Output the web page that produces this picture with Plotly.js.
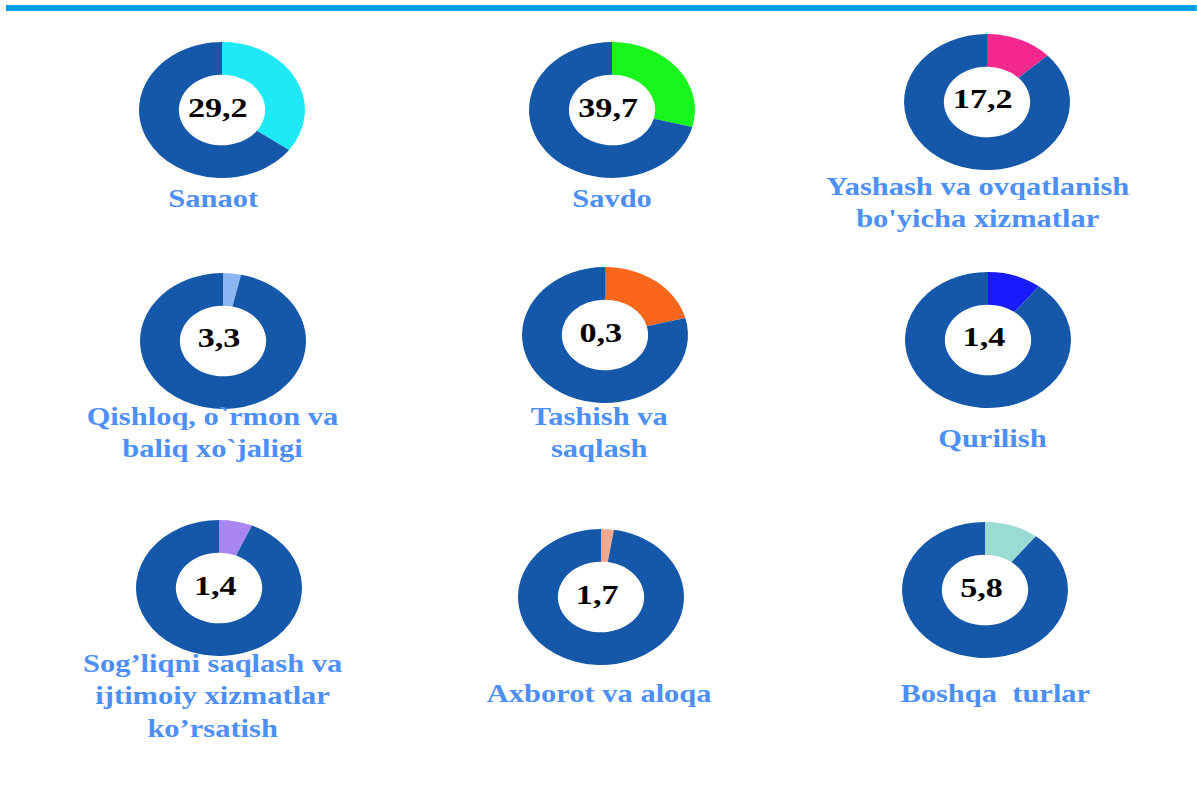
<!DOCTYPE html>
<html>
<head>
<meta charset="utf-8">
<script src="https://cdn.plot.ly/plotly-3.0.1.min.js"></script>
<style>
html,body{margin:0;padding:0;background:#fff;overflow:hidden;}
#wrap{width:1197px;height:801px;overflow:hidden;}
#chart{width:981px;height:801px;transform:scaleX(1.22);transform-origin:0 0;}
</style>
</head>
<body>
<div id="wrap"><div id="chart"></div></div>
<script>
// Data
var categories = [
  "Sanaot",
  "Savdo",
  "Yashash va ovqatlanish<br>bo'yicha xizmatlar",
  "Qishloq, o`rmon va<br>baliq xo`jaligi",
  "Tashish va<br>saqlash",
  "Qurilish",
  "Sog’liqni saqlash va<br>ijtimoiy xizmatlar<br>ko’rsatish",
  "Axborot va aloqa",
  "Boshqa  turlar"
];
var centerValues = [29.2, 39.7, 17.2, 3.3, 0.3, 1.4, 1.4, 1.7, 5.8];
// share of the highlighted slice as drawn in the picture (percent)
var sliceShares = [35, 29, 13, 3.5, 21, 10.5, 6.5, 2.5, 10.5];
var sliceColors = ["#1ee9f7", "#18f51c", "#f5288f", "#8cb6f2", "#fa661c", "#1a1aff", "#a985f2", "#f5aa8e", "#9adbd3"];

// Layout (pixel positions in the final picture; the chart is stretched horizontally by S)
var S = 1.22, W = 981, H = 801, R = 68;
var centers = [[222,110],[612,110],[987,102],[223,341],[605,335],[988,340],[219,588],[601,597],[985,590]];
var labelPos = [[213,200],[612,200],[978,188],[213,418],[600,418],[992,440],[213,665],[600,695],[995,695]];
var restColor = "#1558a9";

var traces = [], annotations = [];
for (var i = 0; i < categories.length; i++) {
  var cx = centers[i][0] / S, cy = centers[i][1];
  traces.push({
    type: "pie",
    values: [sliceShares[i], 100 - sliceShares[i]],
    labels: [categories[i].replace(/<br>/g, " "), "other"],
    marker: {colors: [sliceColors[i], restColor], line: {width: 0}},
    hole: 0.52,
    sort: false,
    direction: "clockwise",
    rotation: 0,
    textinfo: "none",
    hoverinfo: "label+percent",
    showlegend: false,
    domain: {x: [(cx - R) / W, (cx + R) / W], y: [1 - (cy + R) / H, 1 - (cy - R) / H]}
  });
  annotations.push({
    xref: "paper", yref: "paper", x: (centers[i][0] - 4) / S / W, y: 1 - (cy - 3) / H,
    text: "<b>" + centerValues[i].toFixed(1).replace(".", ",") + "</b>",
    showarrow: false, xanchor: "center", yanchor: "middle",
    font: {family: "Liberation Serif, Times New Roman, serif", size: 28, color: "#000"}
  });
  annotations.push({
    xref: "paper", yref: "paper", x: labelPos[i][0] / S / W, y: 1 - (labelPos[i][1] - 17) / H,
    text: "<b>" + categories[i] + "</b>",
    showarrow: false, xanchor: "center", yanchor: "top", align: "center",
    font: {family: "Liberation Serif, Times New Roman, serif", size: 25, color: "#4d8ff7"}
  });
}

var layout = {
  width: W, height: H,
  margin: {l: 0, r: 0, t: 0, b: 0},
  paper_bgcolor: "#fff", plot_bgcolor: "#fff",
  showlegend: false,
  annotations: annotations,
  shapes: [{
    type: "line", xref: "paper", yref: "paper",
    x0: 6 / S / W, x1: 1, y0: 1 - 8 / H, y1: 1 - 8 / H,
    line: {color: "#03a0e6", width: 6}
  }]
};
Plotly.newPlot("chart", traces, layout, {displayModeBar: false, staticPlot: true});
</script>
</body>
</html>
